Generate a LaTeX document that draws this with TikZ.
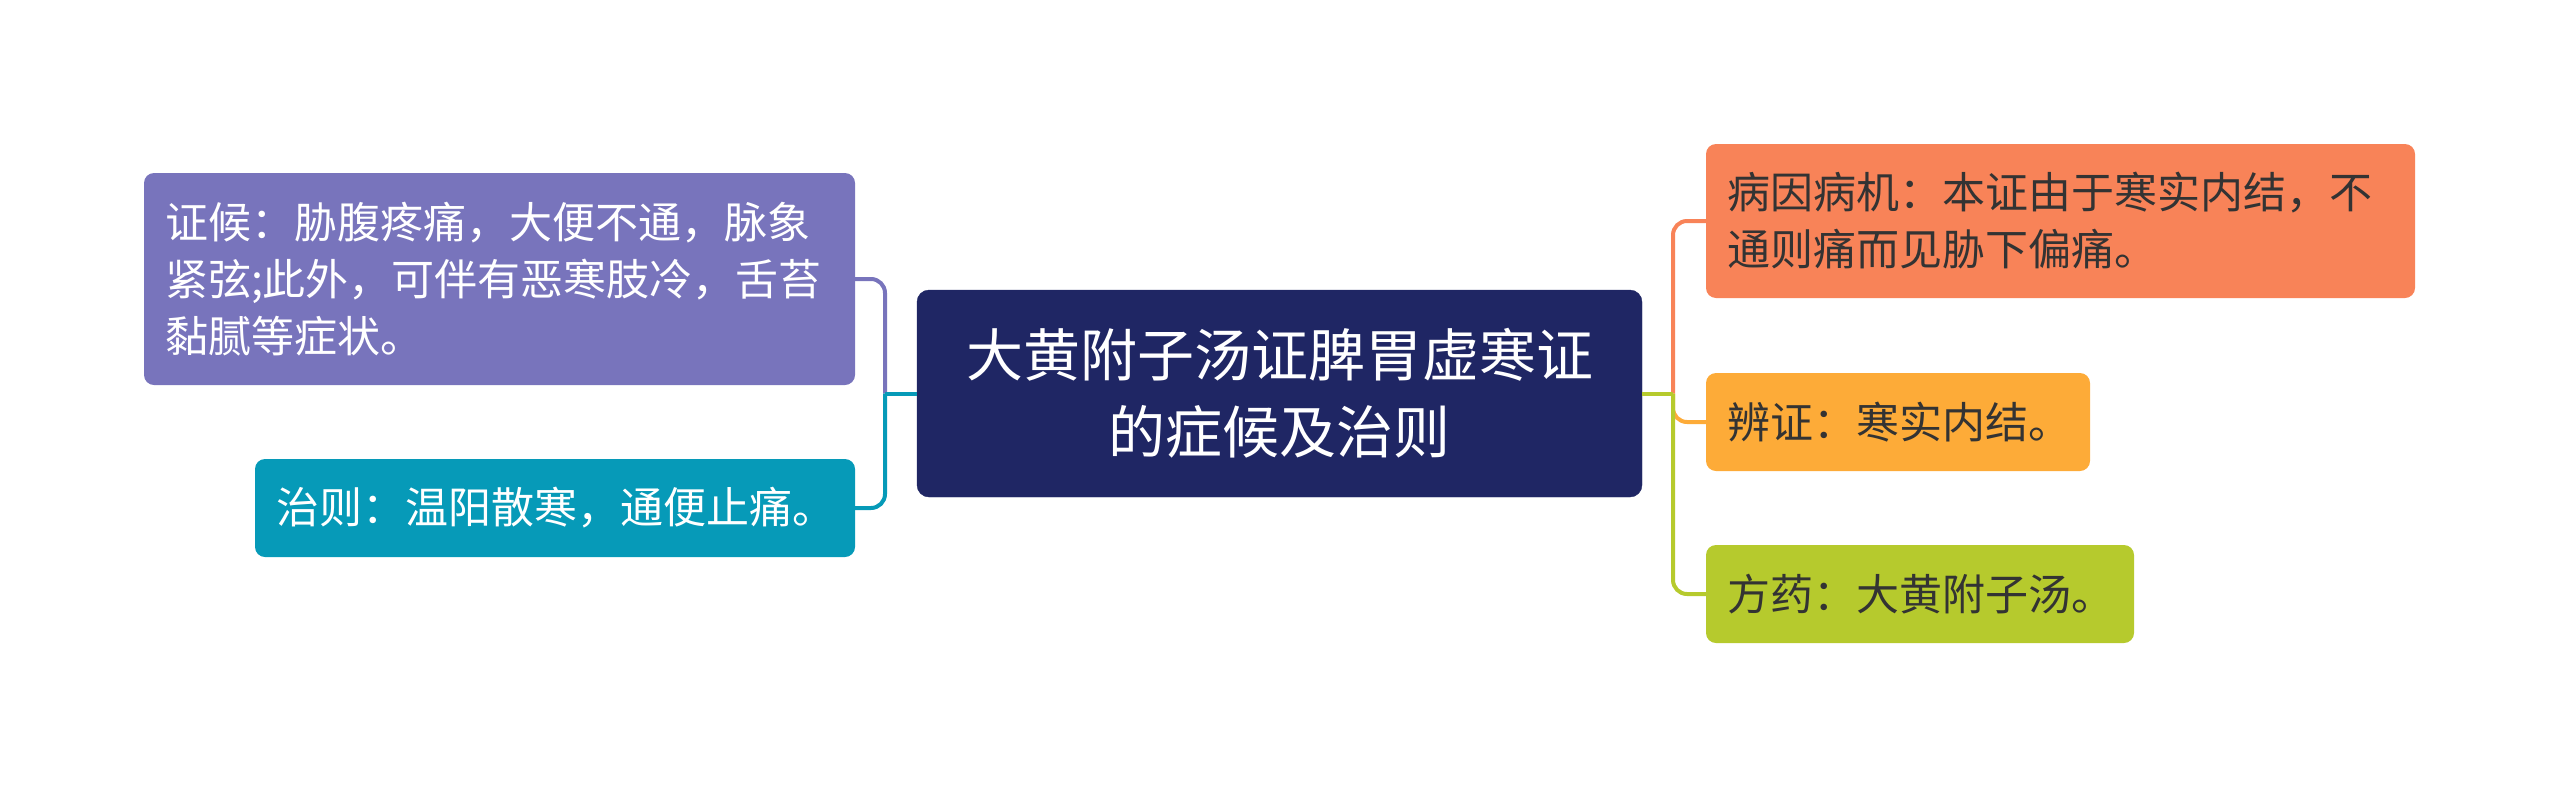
\documentclass[tikz,border=0pt]{standalone}
\usepackage{fontspec}
\setmainfont{Noto Sans CJK SC}
\usepackage{tikz}
\usepackage{xcolor}
\definecolor{ColRoot}{RGB}{31,38,100}
\definecolor{ColPurple}{RGB}{120,116,188}
\definecolor{ColTeal}{RGB}{6,154,184}
\definecolor{ColCoral}{RGB}{248,131,88}
\definecolor{ColAmber}{RGB}{253,171,56}
\definecolor{ColLime}{RGB}{182,202,45}
\definecolor{ColText}{RGB}{51,51,51}
\tikzstyle{RootTopic}=[rectangle,rounded corners=12pt,fill=ColRoot,draw=ColRoot,text=white,
align=center,inner sep=0pt,font=\fontsize{57}{77}\selectfont]
\tikzstyle{SubTopic}=[rectangle,rounded corners=10pt,inner xsep=21pt,inner ysep=0pt,
align=left,font=\fontsize{43}{57}\selectfont]
\tikzstyle{EdgeBranch}=[line width=4pt,rounded corners=14pt]

\begin{document}
\begin{tikzpicture}[x=1pt,y=-1pt]
        \useasboundingbox(0,0)rectangle(2560,788);
        \node[RootTopic,minimum width=725pt,minimum height=207pt](root)at(1279.5,393.5){大黄附子汤证脾胃虚寒证\\的症候及治则};
        \node[SubTopic,fill=ColPurple,text=white,text width=669pt,minimum height=212pt](zhenghou)at(499.5,279){证候：胁腹疼痛，大便不通，脉象\\紧弦;此外，可伴有恶寒肢冷，舌苔\\黏腻等症状。};
        \node[SubTopic,fill=ColTeal,text=white,text width=558pt,minimum height=98pt](zhize)at(555,508){治则：温阳散寒，通便止痛。};
        \node[SubTopic,fill=ColCoral,text=ColText,text width=667pt,minimum height=154pt](bingyin)at(2060.5,221){病因病机：本证由于寒实内结，不\\通则痛而见胁下偏痛。};
        \node[SubTopic,fill=ColAmber,text=ColText,text width=342pt,minimum height=98pt](bianzheng)at(1898,422){辨证：寒实内结。};
        \node[SubTopic,fill=ColLime,text=ColText,text width=386pt,minimum height=98pt](fangyao)at(1920,594){方药：大黄附子汤。};
        \coordinate(lj)at(885,393.5);
        \coordinate(rj)at(1673,393.5);
        \draw[EdgeBranch,ColPurple](lj)|-(zhenghou.east);
        \draw[EdgeBranch,ColTeal](lj)|-(zhize.east);
        \draw[EdgeBranch,ColTeal,sharp corners](root.west)--(lj);
        \draw[EdgeBranch,ColCoral](rj)|-(bingyin.west);
        \draw[EdgeBranch,ColAmber](rj)|-(bianzheng.west);
        \draw[EdgeBranch,ColLime](rj)|-(fangyao.west);
        \draw[EdgeBranch,ColLime,sharp corners](root.east)--(rj);
    \end{tikzpicture}
\end{document}
